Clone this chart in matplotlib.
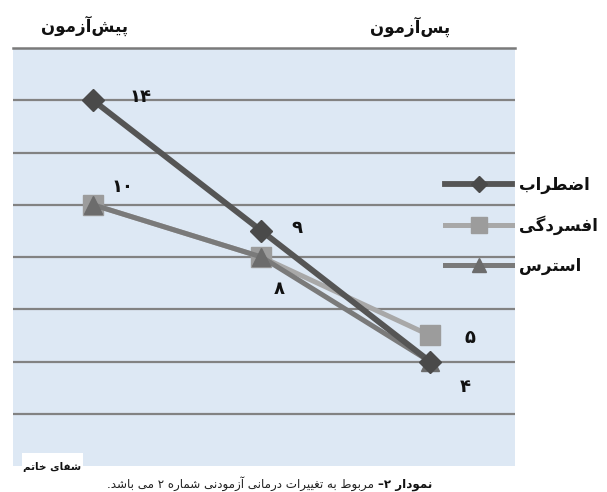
import re
import matplotlib
matplotlib.use('Agg')
import matplotlib.pyplot as plt
from matplotlib.patches import Rectangle

# ---------------- data ----------------
stages = ['پیش‌آزمون', 'میان‌آزمون', 'پس‌آزمون']
x_pos = [0, 1, 2]
series_names = ['اضطراب', 'افسردگی', 'استرس']
anxiety = [14, 9, 4]
depression = [10, 8, 5]
stress = [10, 8, 4]
caption_bold = 'نمودار ۲–'
caption_rest = 'مربوط به تغییرات درمانی آزمودنی شماره\u0654 ۲ می باشد.'
logo_text = 'شفای خاتم'

# ---------------- minimal Persian shaping ----------------
FORMS = {
    'ا': ('\uFE8D', '\uFE8E', None, None),
    'آ': ('\uFE81', '\uFE82', None, None),
    'ب': ('\uFE8F', '\uFE90', '\uFE91', '\uFE92'),
    'پ': ('\uFB56', '\uFB57', '\uFB58', '\uFB59'),
    'ت': ('\uFE95', '\uFE96', '\uFE97', '\uFE98'),
    'خ': ('\uFEA5', '\uFEA6', '\uFEA7', '\uFEA8'),
    'د': ('\uFEA9', '\uFEAA', None, None),
    'ر': ('\uFEAD', '\uFEAE', None, None),
    'ز': ('\uFEAF', '\uFEB0', None, None),
    'س': ('\uFEB1', '\uFEB2', '\uFEB3', '\uFEB4'),
    'ش': ('\uFEB5', '\uFEB6', '\uFEB7', '\uFEB8'),
    'ض': ('\uFEBD', '\uFEBE', '\uFEBF', '\uFEC0'),
    'ط': ('\uFEC1', '\uFEC2', '\uFEC3', '\uFEC4'),
    'غ': ('\uFECD', '\uFECE', '\uFECF', '\uFED0'),
    'ف': ('\uFED1', '\uFED2', '\uFED3', '\uFED4'),
    'گ': ('\uFB92', '\uFB93', '\uFB94', '\uFB95'),
    'م': ('\uFEE1', '\uFEE2', '\uFEE3', '\uFEE4'),
    'ن': ('\uFEE5', '\uFEE6', '\uFEE7', '\uFEE8'),
    'ه': ('\uFEE9', '\uFEEA', '\uFEEB', '\uFEEC'),
    'و': ('\uFEED', '\uFEEE', None, None),
    'ی': ('\uFBFC', '\uFBFD', '\uFBFE', '\uFBFF'),
}


def shape(text):
    chars = list(text)
    out = []
    for i, c in enumerate(chars):
        if c not in FORMS:
            out.append('' if c == '\u200c' else c)
            continue
        prev = chars[i - 1] if i > 0 else None
        nxt = chars[i + 1] if i + 1 < len(chars) else None
        join_prev = prev in FORMS and FORMS[prev][2] is not None
        join_next = FORMS[c][2] is not None and nxt in FORMS
        iso, fin, ini, med = FORMS[c]
        if join_prev and join_next:
            out.append(med)
        elif join_prev:
            out.append(fin)
        elif join_next:
            out.append(ini)
        else:
            out.append(iso)
    return ''.join(out)


def rtl(text):
    s = shape(text)
    s = re.sub('(.)(\u0654)', lambda m: '\x00' + m.group(1), s)
    s = s[::-1]
    s = s.replace('\x00', '')
    return re.sub('[۰-۹0-9]+', lambda m: m.group(0)[::-1], s)


def fa_num(v):
    return str(v).translate(str.maketrans('0123456789', '۰۱۲۳۴۵۶۷۸۹'))


plt.rcParams['font.family'] = ['DejaVu Sans']

W, H = 607, 492
fig = plt.figure(figsize=(W / 100, H / 100), dpi=100)
fig.patch.set_facecolor('white')
ax = fig.add_axes([13 / W, (H - 466) / H, (515 - 13) / W, (466 - 48) / H])
ax.set_facecolor('#dde8f4')

# lines (drawn back to front)
l_dep, = ax.plot(x_pos, depression, color='#a8a8a8', lw=3.6, marker='s', ms=15,
                 mfc='#9c9c9c', mec='#9c9c9c', zorder=3, label=rtl(series_names[1]))
l_str, = ax.plot(x_pos, stress, color='#7a7a7a', lw=3.6, marker='^', ms=13,
                 mfc='#6c6c6c', mec='#6c6c6c', zorder=4, label=rtl(series_names[2]))
l_anx, = ax.plot(x_pos, anxiety, color='#555555', lw=4.2, marker='D', ms=11,
                 mfc='#4a4a4a', mec='#4a4a4a', zorder=5, label=rtl(series_names[0]))

ax.set_xlim(-0.475, 2.505)
ax.set_ylim(0, 16)
ax.set_yticks(range(2, 16, 2))
ax.set_xticks([])
ax.tick_params(left=False, labelleft=False)
ax.yaxis.grid(True, color='#828282', lw=1.6)
ax.set_axisbelow(True)
for s in ['left', 'right', 'bottom']:
    ax.spines[s].set_visible(False)
ax.spines['top'].set_color('#7a7a7a')
ax.spines['top'].set_linewidth(1.8)

# value labels
labels = [
    (0, anxiety[0], (47, 3)),
    (0, depression[0], (29, 18)),
    (1, anxiety[1], (35, 3)),
    (1, stress[1], (18, -32)),
    (2, depression[2], (40, -3)),
    (2, stress[2], (35, -26)),
]
for xi, v, off in labels:
    ax.annotate(fa_num(v), (xi, v), xytext=off, textcoords='offset pixels',
                ha='center', va='center', fontsize=13, fontweight='bold',
                color='#111111', zorder=6)

# legend
leg = ax.legend(handles=[l_anx, l_dep, l_str], loc='upper left',
                bbox_to_anchor=(0.861, 0.695), frameon=False, borderpad=0,
                borderaxespad=0, handlelength=4.0, handletextpad=0.45,
                labelspacing=1.3, markerscale=0.75,
                prop={'weight': 'bold', 'size': 12})
for t in leg.get_texts():
    t.set_color('#111111')
leg.set_clip_on(False)

# headings
fig.text(85 / W, 1 - 26 / H, rtl(stages[0]), ha='center', va='center',
         fontsize=12, fontweight='bold', color='#111111')
fig.text(410 / W, 1 - 27 / H, rtl(stages[2]), ha='center', va='center',
         fontsize=12, fontweight='bold', color='#111111')

# caption
tb = fig.text(432 / W, 1 - 478 / H, rtl(caption_bold), ha='right', va='top',
              fontsize=8.6, fontweight='bold', color='#111111')
ax.annotate(rtl(caption_rest), xy=(0, 0), xycoords=tb, xytext=(-4, 0),
            textcoords='offset pixels', ha='right', va='bottom',
            fontsize=8.6, color='#222222', annotation_clip=False)

# logo box
fig.patches.append(Rectangle((22 / W, 1 - 478 / H), 61 / W, 25 / H,
                             transform=fig.transFigure, facecolor='white',
                             edgecolor='none', zorder=10))
fig.text(52 / W, 1 - 467 / H, rtl(logo_text), ha='center', va='center',
         fontsize=7.5, fontweight='bold', color='#111111', zorder=11)

fig.savefig('out.png', dpi=100, facecolor='white')
